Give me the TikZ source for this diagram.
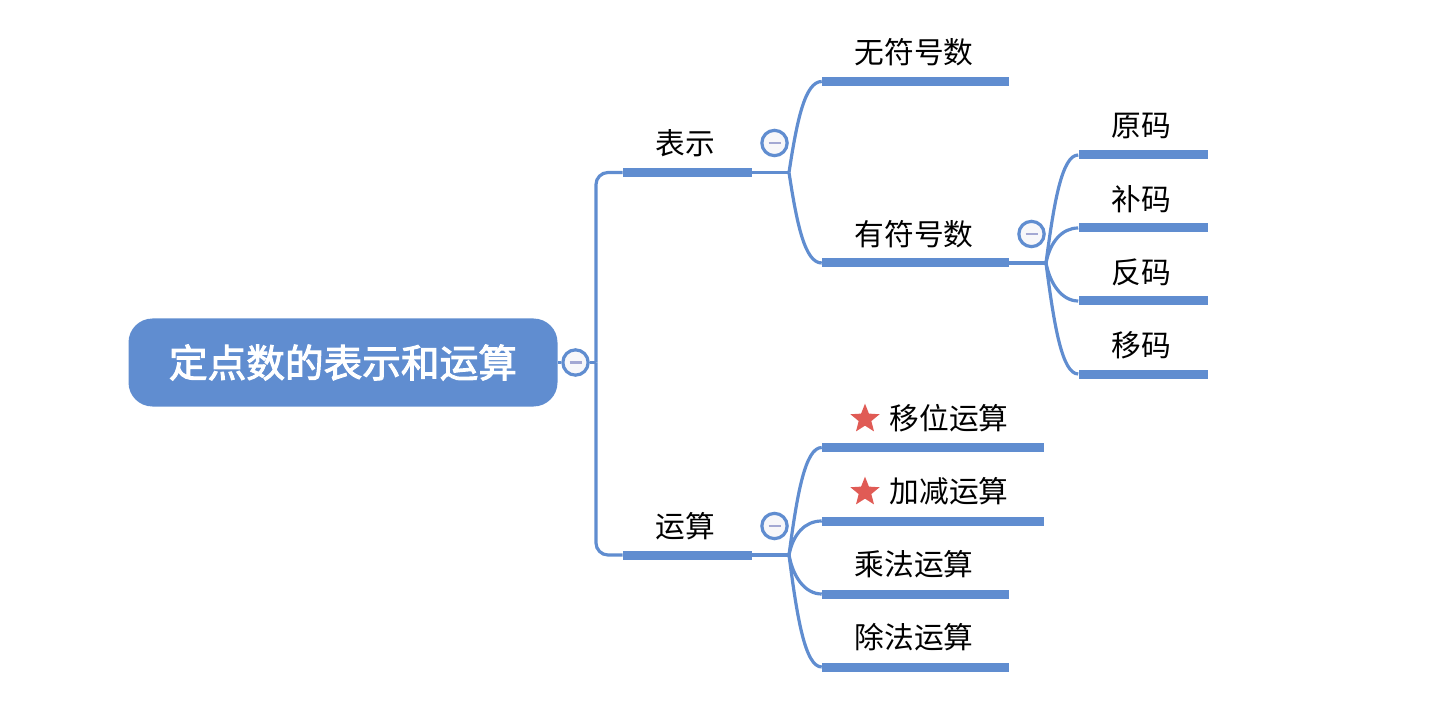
\documentclass[tikz,border=0pt]{standalone}
\usepackage{fontspec}
\setmainfont{Noto Sans CJK SC}
\newfontfamily\rootfont[FakeBold=2.5]{Noto Sans CJK SC}
\usetikzlibrary{shapes.geometric}
\definecolor{mapblue}{RGB}{96,141,208}
\definecolor{starred}{RGB}{224,91,85}
\definecolor{minusgray}{RGB}{163,168,211}
\definecolor{togglefill}{RGB}{247,247,250}
\tikzset{
    rootbox/.style={rectangle,rounded corners=18pt,fill=mapblue,text=white,font=\fontsize{29}{32}\rootfont,minimum width=321.75pt,minimum height=66pt,inner sep=0pt},
    bar/.style={rectangle,fill=mapblue,minimum height=6.75pt,inner sep=0pt},
    barshort/.style={bar,minimum width=96.75pt},
    barmid/.style={bar,minimum width=140.25pt},
    barlong/.style={bar,minimum width=166.5pt},
    lab/.style={inner sep=0pt,font=\fontsize{22.3}{26}\selectfont},
    link/.style={draw=mapblue,line width=2.4pt},
    toggle/.style={circle,draw=mapblue,line width=2.4pt,fill=togglefill,minimum size=19pt,inner sep=0pt,
        path picture={\draw[minusgray,line width=2.2pt] ([xshift=-4.5pt]path picture bounding box.center) -- ([xshift=4.5pt]path picture bounding box.center);}},
    mark star/.style={star,star points=5,star point ratio=2.3,fill=starred,minimum size=23pt,inner sep=0pt},
}
\begin{document}
\begin{tikzpicture}[x=0.75pt,y=0.75pt,yscale=-1,xscale=1]
    \useasboundingbox (0,0) rectangle (1441,716);
    % bars
    \node[barshort] (biaoshi) at (687.5,172.5) {};
    \node[barshort] (yunsuan) at (687.5,555) {};
    \node[barmid] (wufuhao) at (915.5,81.5) {};
    \node[barmid] (youfuhao) at (915.5,263) {};
    \node[barshort] (yuanma) at (1143,155) {};
    \node[barshort] (buma) at (1143,228) {};
    \node[barshort] (fanma) at (1143,301) {};
    \node[barshort] (yima) at (1143,374) {};
    \node[barlong] (yiwei) at (933,447.5) {};
    \node[barlong] (jiajian) at (933,521) {};
    \node[barmid] (chengfa) at (915.5,594) {};
    \node[barmid] (chufa) at (915.5,667) {};
    % branch points
    \coordinate (trunk) at (596,362.5);
    \coordinate (forkbiao) at (789,172.5);
    \coordinate (forkyou) at (1046,263);
    \coordinate (forkyun) at (789,555);
    % root and toggles
    \node[rootbox] (root) at (343,362.5) {定点数的表示和运算};
    \node[toggle] (toggleroot) at (575.5,362.5) {};
    \node[toggle] (togglebiao) at (774.5,143) {};
    \node[toggle] (toggleyou) at (1031.5,234) {};
    \node[toggle] (toggleyun) at (774.5,526) {};
    % connectors
    \draw[link] (root.east) -- (toggleroot.west);
    \draw[link] (toggleroot.east) -- (trunk);
    \draw[link,rounded corners=9pt] (trunk) |- (biaoshi.west);
    \draw[link,rounded corners=9pt] (trunk) |- (yunsuan.west);
    \draw[link] (biaoshi.east) -- (forkbiao);
    \draw[link] (youfuhao.east) -- (forkyou);
    \draw[link] (yunsuan.east) -- (forkyun);
    \draw[link] (forkbiao) .. controls (797,120) and (805,81.5) .. (wufuhao.west);
    \draw[link] (forkbiao) .. controls (797,225) and (805,263) .. (youfuhao.west);
    \draw[link] (forkyou) .. controls (1054,202) and (1062,155) .. (yuanma.west);
    \draw[link] (forkyou) .. controls (1050,242) and (1062,228) .. (buma.west);
    \draw[link] (forkyou) .. controls (1050,284) and (1062,301) .. (fanma.west);
    \draw[link] (forkyou) .. controls (1054,325) and (1062,374) .. (yima.west);
    \draw[link] (forkyun) .. controls (797,495) and (805,447.5) .. (yiwei.west);
    \draw[link] (forkyun) .. controls (793,534) and (805,521) .. (jiajian.west);
    \draw[link] (forkyun) .. controls (793,577) and (805,594) .. (chengfa.west);
    \draw[link] (forkyun) .. controls (797,617) and (805,667) .. (chufa.west);
    % labels
    \node[lab] (biaoshitext) at (685.5,143) {表示};
    \node[lab] (yunsuantext) at (685.5,526) {运算};
    \node[lab] (wufuhaotext) at (914,52) {无符号数};
    \node[lab] (youfuhaotext) at (914,234) {有符号数};
    \node[lab] (yuanmatext) at (1141,126) {原码};
    \node[lab] (bumatext) at (1141,199) {补码};
    \node[lab] (fanmatext) at (1141,272) {反码};
    \node[lab] (yimatext) at (1141,345) {移码};
    \node[lab] (yiweitext) at (949,418) {移位运算};
    \node[lab] (jiajiantext) at (949,491) {加减运算};
    \node[lab] (chengfatext) at (914,564) {乘法运算};
    \node[lab] (chufatext) at (914,637) {除法运算};
    % stars
    \node[mark star] (staryiwei) at (865,419) {};
    \node[mark star] (starjiajian) at (865,492) {};
\end{tikzpicture}
\end{document}
